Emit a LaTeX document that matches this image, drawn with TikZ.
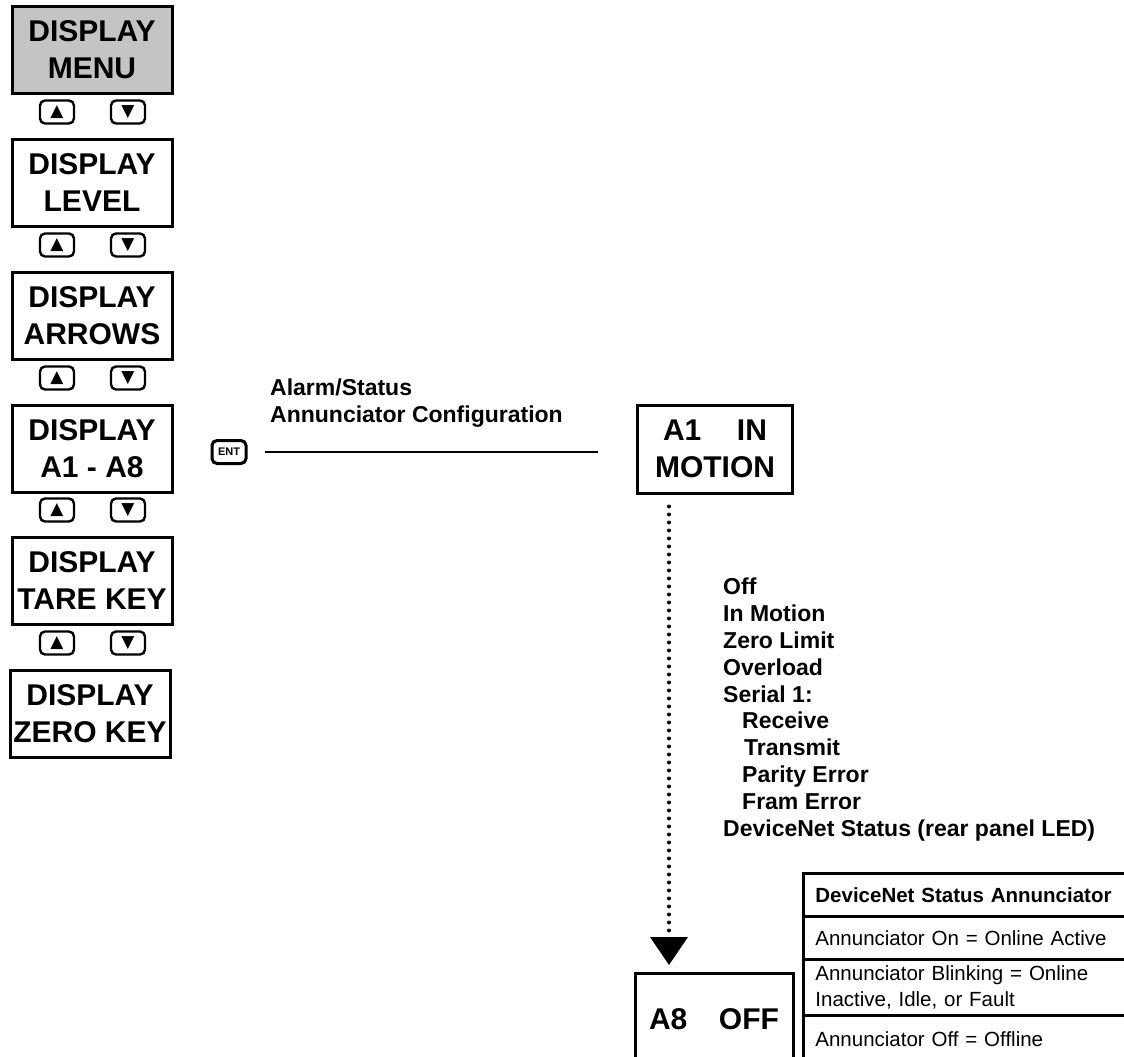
\documentclass[tikz,border=0pt]{standalone}
\usepackage{fontspec}
\setmainfont{Liberation Sans}
\newfontfamily\symfont{DejaVu Sans}
\usetikzlibrary{arrows.meta,positioning,calc}
\definecolor{lcdgray}{HTML}{C4C4C4}

\begin{document}
\begin{tikzpicture}[x=1pt, y=-1pt,
    lcd/.style={draw, line width=3pt, minimum width=160pt, minimum height=87pt, inner sep=0pt,
      align=center, font=\fontsize{30}{37}\selectfont\bfseries},
    key/.style={draw, line width=2.4pt, rounded corners=5pt, minimum width=34pt, minimum height=23pt,
      inner sep=0pt, font=\symfont\fontsize{17}{17}\selectfont},
    lbl/.style={anchor=north west, inner sep=0pt, align=left, font=\fontsize{23}{27}\selectfont\bfseries},
    row/.style={draw, line width=2.8pt, anchor=north west, text width=309pt, inner xsep=12pt,
      inner ysep=0pt, align=left, font=\fontsize{20.5}{26}\selectfont},
    dots/.style={line width=4pt, line cap=round, dash pattern=on 0pt off 8pt,
      -{Triangle[width=37pt,length=28pt]}}]
  \useasboundingbox (0,0) rectangle (1124,1057);
  \clip (0,0) rectangle (1124,1057);

  % display menu column
  \node[lcd, fill=lcdgray] (menu) at (92,50)  {DISPLAY\\MENU};
  \node[lcd] (level)  at (92,183) {DISPLAY\\LEVEL};
  \node[lcd] (arrows) at (92,316) {DISPLAY\\ARROWS};
  \node[lcd] (annun)  at (92,449) {DISPLAY\\A1 - A8};
  \node[lcd] (tare)   at (92,581) {DISPLAY\\TARE KEY};
  \node[lcd] (zero)   at (90,714) {DISPLAY\\ZERO KEY};

  \node[key] (up1) at (57,112) {▲};  \node[key] (dn1) at (128,112) {▼};
  \node[key] (up2) at (57,245) {▲};  \node[key] (dn2) at (128,245) {▼};
  \node[key] (up3) at (57,378) {▲};  \node[key] (dn3) at (128,378) {▼};
  \node[key] (up4) at (57,510) {▲};  \node[key] (dn4) at (128,510) {▼};
  \node[key] (up5) at (57,643) {▲};  \node[key] (dn5) at (128,643) {▼};

  % enter into the annunciator setup
  \node[key, line width=3pt, font=\fontsize{11}{11}\selectfont\bfseries] (ent) at (229,452) {ENT};
  \node[lbl] (cfg) at (270,379) {Alarm/Status\\Annunciator Configuration};
  \node[lcd, minimum width=155pt, minimum height=88pt] (a1) at (715,449)
    {\makebox[104pt]{A1\hfill IN}\\MOTION};
  \node[lcd, minimum width=158pt, minimum height=92pt, anchor=north] (a8) at (714,972)
    {\makebox[130pt]{A8\hfill OFF}};
  \draw[line width=2.6pt, shorten <=17pt, shorten >=38pt] (ent.east) -- (ent.east -| a1.west);
  \draw[dots, shorten <=12pt, shorten >=7pt] ([xshift=33pt]a1.south west) -- ([xshift=33pt]a1.south west |- a8.north);

  % choices
  \node[lbl, font=\fontsize{23}{26.8}\selectfont\bfseries] (opts) at (723,578)
    {Off\\In Motion\\Zero Limit\\Overload\\Serial 1:\\
     \hspace*{19pt}Receive\\\hspace*{21pt}Transmit\\\hspace*{19pt}Parity Error\\\hspace*{19pt}Fram Error\\
     DeviceNet Status (rear panel LED)};

  % status table
  \node[row, minimum height=43pt, font=\fontsize{20.5}{26}\selectfont\bfseries] (hdr) at (802,872) {DeviceNet Status Annunciator};
  \node[row, minimum height=43pt] (ron)  at (802,915)  {Annunciator On = Online Active};
  \node[row, minimum height=56pt] (rbl)  at (802,958)  {Annunciator Blinking = Online\\Inactive, Idle, or Fault};
  \node[row, minimum height=48pt] (roff) at (802,1014) {Annunciator Off = Offline};
\end{tikzpicture}
\end{document}
